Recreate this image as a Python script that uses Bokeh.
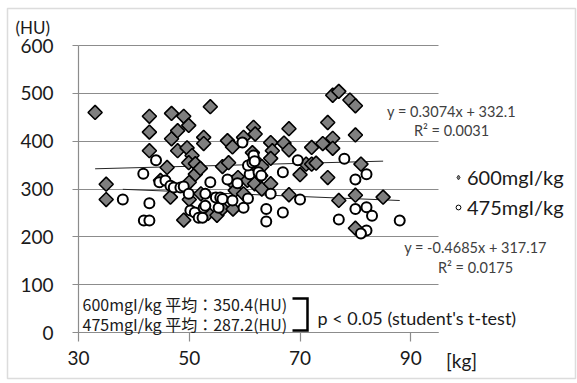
import math
from bokeh.plotting import figure
from bokeh.models import (Label, Legend, LegendItem, BoxAnnotation, Range1d,
                          FixedTicker, Grid)
from bokeh.embed import file_html
from bokeh.resources import INLINE

# ---------------- data ----------------
x_ticks = [30, 50, 70, 90]
y_ticks = [0, 100, 200, 300, 400, 500, 600]

# 600 mgI/kg group  (body weight [kg], CT value [HU])
x600 = [33.0, 35.0, 35.0, 42.8, 42.8, 42.8, 44.8, 46.0, 46.6, 46.8,
        46.8, 47.9, 47.9, 49.0, 49.0, 49.6, 49.9, 50.5, 49.9, 50.0,
        50.0, 51.1, 51.1, 52.0, 52.1, 52.6, 52.6, 53.8, 53.4, 55.0,
        56.0, 56.0, 56.9, 57.1, 57.8, 57.8, 57.9, 58.3, 58.8, 59.8,
        59.8, 60.5, 61.6, 61.9, 61.4, 61.9, 61.1, 61.8, 63.1, 63.1,
        62.9, 64.7, 65.0, 64.7, 64.7, 67.1, 68.0, 68.0, 68.0, 70.0,
        71.1, 72.1, 72.1, 72.9, 74.1, 75.0, 75.0, 75.9, 75.9, 75.9,
        77.0, 79.0, 80.0, 80.0, 77.0, 80.0, 81.0, 85.0, 80.0]
y600 = [460, 310, 278, 452, 419, 380, 318, 345, 283, 458,
        405, 422, 380, 452, 235, 386, 433, 370, 355, 314,
        278, 353, 331, 343, 290, 408, 395, 472, 249, 245,
        259, 347, 401, 355, 388, 314, 258, 297, 324, 408,
        290, 318, 429, 415, 376, 360, 349, 311, 347, 300,
        328, 397, 380, 364, 311, 396, 426, 382, 288, 330,
        352, 387, 352, 354, 395, 439, 324, 406, 385, 496,
        504, 486, 474, 413, 276, 287, 352, 283, 218]

# 475 mgI/kg group
x475 = [38.0, 41.7, 41.8, 42.8, 42.8, 44.0, 44.6, 45.7, 46.6, 47.2,
        48.4, 49.0, 49.9, 50.2, 51.0, 51.7, 52.4, 52.6, 52.9, 52.9,
        53.8, 54.8, 55.6, 55.3, 56.0, 56.9, 57.8, 58.7, 59.6, 59.8,
        60.6, 60.9, 60.6, 61.4, 61.6, 61.8, 62.5, 63.0, 63.9, 63.9,
        64.7, 66.9, 66.9, 69.6, 70.0, 78.0, 80.0, 80.0, 82.0, 82.0,
        83.0, 82.0, 81.0, 77.0, 88.0]
y475 = [278, 332, 234, 234, 270, 360, 314, 318, 307, 303,
        303, 305, 290, 255, 251, 240, 240, 261, 265, 290,
        314, 282, 282, 261, 279, 320, 276, 312, 397, 261,
        280, 331, 349, 355, 370, 358, 335, 328, 258, 232,
        290, 335, 251, 360, 278, 363, 320, 258, 331, 262,
        244, 213, 207, 236, 234]

# linear trend lines shown in the chart
slope600, icpt600 = 0.3074, 332.1
slope475, icpt475 = -0.4685, 317.17

series_names = ["600mgI/kg", "475mgI/kg"]
eq600 = ["y = 0.3074x + 332.1", "R\u00b2 = 0.0031"]
eq475 = ["y = -0.4685x + 317.17", "R\u00b2 = 0.0175"]
mean_lines = ["600mgI/kg 平均：350.4(HU)", "475mgI/kg 平均：287.2(HU)"]
p_text = "p < 0.05 (student's t-test)"

# ---------------- layout (pixel geometry of the plot area) ----------------
W, H = 577, 383
AX_L, AX_R = 78, 438        # px of x = 30 and x = 95
AX_B, AX_T = 332, 45        # px of y = 0 and y = 600
XA, XB, YA, YB = 30, 95, 0, 600

def dx(px):   # canvas pixel -> data x
    return XA + (px - AX_L) * (XB - XA) / (AX_R - AX_L)

def dy(py):   # canvas pixel -> data y
    return YA + (AX_B - py) * (YB - YA) / (AX_B - AX_T)

GRID = "#8c8c8c"
FONT = "Lato"
TXT = "#1a1a1a"

p = figure(width=W, height=H, min_border=0,
           x_range=Range1d(dx(0), dx(W)), y_range=Range1d(dy(H), dy(0)),
           output_backend="svg", toolbar_location=None)
p.outline_line_color = None
p.background_fill_color = "white"
p.border_fill_color = "white"

# grid: horizontal lines only, spanning x = 30 .. 95
p.xgrid.visible = False
p.ygrid.visible = False
if "cross_bounds" in Grid.properties():
    p.add_layout(Grid(dimension=1, ticker=FixedTicker(ticks=y_ticks),
                      bounds=(YA, YB), cross_bounds=(XA, XB),
                      grid_line_color=GRID, grid_line_width=1.2))
else:
    p.segment(x0=[XA] * len(y_ticks), x1=[XB] * len(y_ticks), y0=y_ticks,
              y1=y_ticks, line_color=GRID, line_width=1.2, level="underlay")

# axes drawn at fixed data locations
xa = p.xaxis[0]
ya = p.yaxis[0]
xa.fixed_location = YA
ya.fixed_location = XA
xa.bounds = (XA, XB)
ya.bounds = (YA, YB)
xa.ticker = FixedTicker(ticks=x_ticks)
ya.ticker = FixedTicker(ticks=y_ticks)
for ax in (xa, ya):
    ax.axis_line_color = GRID
    ax.axis_line_width = 1.2
    ax.major_tick_line_color = GRID
    ax.major_tick_line_width = 1.2
    ax.major_tick_in = 0
    ax.minor_tick_line_color = None
    ax.major_label_text_font = FONT
    ax.major_label_text_font_size = "19px"
    ax.major_label_text_color = TXT
xa.major_tick_out = 9
xa.major_label_standoff = 9
ya.major_tick_out = 6
ya.major_label_standoff = 19

# trend lines (over each series' x extent)
for xs, m, b in ((x600, slope600, icpt600), (x475, slope475, icpt475)):
    x_lo, x_hi = min(xs), max(xs)
    p.line([x_lo, x_hi], [m * x_lo + b, m * x_hi + b], line_color="#262626",
           line_width=1)

# markers
p.scatter(x600, y600, marker="square", angle=math.pi / 4, size=10,
          fill_color="#7f7f7f", line_color="black", line_width=1.6)
p.scatter(x475, y475, marker="circle", size=10,
          fill_color="white", line_color="black", line_width=2)

# legend (legend-only renderers with smaller glyphs)
nan = float("nan")
leg_d = p.scatter([nan], [nan], marker="diamond", size=13,
                  fill_color="#7f7f7f", line_color="#404040", line_width=1)
leg_c = p.scatter([nan], [nan], marker="circle", size=9,
                  fill_color="white", line_color="black", line_width=1)
legend = Legend(items=[LegendItem(label=series_names[0], renderers=[leg_d]),
                       LegendItem(label=series_names[1], renderers=[leg_c])],
                location=(452, 164), orientation="vertical",
                glyph_width=12, glyph_height=24, label_height=24,
                label_standoff=3, spacing=6, padding=0, margin=0,
                border_line_color=None, background_fill_alpha=0,
                label_text_font=FONT, label_text_font_size="20px",
                label_text_color=TXT)
p.add_layout(legend)

def lab(px, py, text, size, align="left", color=TXT, font=FONT):
    p.add_layout(Label(x=dx(px), y=dy(py), text=text, text_align=align,
                       text_baseline="middle", text_font=font,
                       text_font_size=size, text_color=color))

lab(15, 27, "(HU)", "17px")
lab(461, 360, "[kg]", "19px", align="center")
lab(451, 111, eq600[0], "14.5px", align="center", color="#404040")
lab(451, 130, eq600[1], "14.5px", align="center", color="#404040")
lab(475, 247, eq475[0], "14.5px", align="center", color="#404040")
lab(475, 267, eq475[1], "14.5px", align="center", color="#404040")
lab(82, 303, mean_lines[0], "16px", font="Noto Sans CJK JP")
lab(82, 323, mean_lines[1], "16px", font="Noto Sans CJK JP")
lab(317, 317, p_text, "18px")

# bracket joining the two mean lines
bx0, bx1, by0, by1 = dx(292), dx(307), dy(298), dy(330)
p.line([bx0, bx1, bx1, bx0], [by0, by0, by1, by1], line_color="black",
       line_width=2.5, line_join="miter")

# outer chart border
p.add_layout(BoxAnnotation(left=dx(7), right=dx(575), top=dy(8), bottom=dy(378),
                           fill_color=None, line_color="#8c8c8c", line_width=1.5))

open("out.html", "w").write(file_html(p, INLINE))
